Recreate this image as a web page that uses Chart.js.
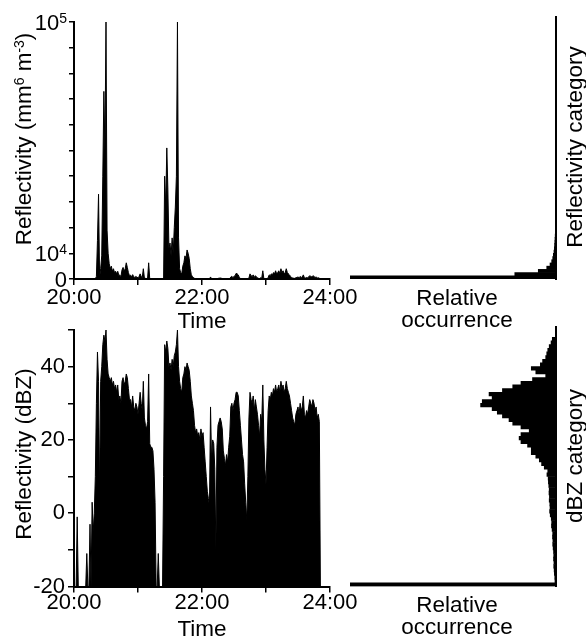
<!DOCTYPE html>
<html><head><meta charset="utf-8">
<script src="https://cdn.jsdelivr.net/npm/chart.js@4.4.1/dist/chart.umd.min.js"></script>
<style>
html,body{margin:0;padding:0;background:#fff;}
#wrap{position:relative;width:586px;height:640px;overflow:hidden;}
canvas{position:absolute;left:0;top:0;}
</style></head><body>
<div id="wrap">
<canvas id="c1" width="586" height="640"></canvas>
<canvas id="c2" width="586" height="640"></canvas>
<canvas id="c3" width="586" height="640"></canvas>
<canvas id="c4" width="586" height="640"></canvas>
</div>
<script>
// ---------- data (one sample per minute after 20:00) ----------
const timeTickLabels = ['20:00', '', '22:00', '', '24:00'];

// Linear reflectivity Z (mm^6 m^-3)
const zSeries = [
  0,0,0,0,0,0,0,0,0,0,
  0,0,0,0,0,0,0,0,0,0,
  10,1000,15000,33000,500,4000,9000,40000,73000,50000,
  100000,19000,10000,6000,4000,5000,3000,4000,2500,3000,
  2000,3000,1500,1500,1000,3500,4500,3000,4000,6300,
  4500,2500,1300,1500,800,1700,900,600,1000,700,
  500,1000,2000,1000,600,4000,400,250,200,300,
  6300,80,60,60,50,20,0,0,0,0,
  0,0,0,0,10,40000,28000,51000,35000,12000,
  14000,9000,16000,10000,20000,28000,40000,100000,16000,4000,
  2500,2000,5000,6300,9000,8000,11300,10000,8000,4000,
  1600,1000,600,250,160,200,120,160,100,200,
  120,160,60,30,10,0,0,0,800,30,
  100,80,20,0,60,250,300,400,300,200,
  50,30,20,40,30,60,120,800,1000,600,
  1000,1300,2200,2000,1600,600,250,100,40,30,
  0,0,0,10,400,2000,1300,1000,1600,600,
  1300,800,500,250,120,500,300,3200,100,20,
  10,60,600,1600,1300,2000,1600,2500,2000,3200,
  2000,2500,3200,2000,4000,2500,3200,2000,2500,4000,
  2500,2000,1600,1000,600,400,300,250,500,600,
  800,500,1000,600,800,1600,500,400,600,500,
  800,1300,1000,800,1300,1000,600,800,400,500,
  300,0,0,0,0,0,0,0,0,0,
  0
];

// Reflectivity in dBZ (clipped at -20)
const dbzSeries = [
  -20,-20,-20,-1,-20,-20,-20,-20,-20,-20,
  -20,-20,-11,-20,-20,-3,-20,3,-5,0,
  10,30,44,36,5,36,40,46,48.6,47,
  50,42,38,37,36,37,35,36,34,35,
  33,35,31,32,30,36,37,35,36,38,
  37,34,31,31,29,32,29,28,30,29,
  27,30,33,30,28,36,26,24,23,25,
  38,19,18,18,17,12,3,-20,-20,-11,
  -20,-20,-20,-20,10,46,44,47,45,40,
  41,39,42,40,43,44,46,50,40,36,
  34,33,37,38,40,39,41,40,39,36,
  32,30,28,24,22,23,21,22,20,23,
  21,22,18,14,10,6,4,2,29,14,
  20,19,12,-10,18,24,25,26,25,23,
  17,15,13,16,14,18,21,29,30,28,
  30,31,33,33,32,28,24,20,16,14,
  8,3,-2,10,26,33,31,30,32,28,
  31,29,27,24,21,27,25,35,20,12,
  8,18,28,32,31,33,32,34,33,35,
  33,34,35,33,36,34,35,33,34,36,
  34,33,32,30,28,26,25,24,27,28,
  29,27,30,28,29,32,27,26,28,27,
  29,31,30,29,31,30,28,29,26,27,
  25,-20,-20,-20,-20,-20,-20,-20,-20,-20,
  -20
];

// Y tick labels
const zTickValues = [0, 10000, 100000];
const zTickBase   = ['0', '10', '10'];
const zTickSup    = ['', '4', '5'];
const dbzTickLabels = ['-20', '', '0', '', '20', '', '40', ''];

// Histograms: bin lower edges (categories) and relative occurrence
const zHistWidth = 1250;
const zHistBins = [0,1250,2500,3750,5000,6250,7500,8750,10000,11250,12500,13750,15000,16250,17500,18750];
const zHistOcc  = [100,20,8.6,4.5,2.9,2.1,1.6,1.3,1.0,0.8,0.7,0.6,0.5,0.4,0.3,0.3];

const dbzHistWidth = 1;
const dbzHistBins = [-20,-19,-18,-17,-16,-15,-14,-13,-12,-11,
  -10,-9,-8,-7,-6,-5,-4,-3,-2,-1,
  0,1,2,3,4,5,6,7,8,9,
  10,11,12,13,14,15,16,17,18,19,
  20,21,22,23,24,25,26,27,28,29,
  30,31,32,33,34,35,36,37,38,39,
  40,41,42,43,44,45,46,47];
const dbzHistOcc = [100,0.5,0.6,0.8,0.9,1.1,1.0,1.2,1.1,1.2,
  1.4,1.6,1.5,1.7,1.6,1.9,2.2,2.1,2.3,2.8,
  3.1,2.9,3.0,3.3,3.2,3.4,3.3,3.5,3.7,3.8,
  4.4,4.0,5.7,7.0,8.1,9.8,12,12,13.8,17,
  17.9,17,13,17,21,22.8,26,28.5,31,36.6,
  35.8,31,32.5,26,21,17,11.4,5,9.8,12,
  7.6,6.5,5,4.5,4,3.3,2.4,1.8];

// ---------- styling ----------
const FONT = "'Liberation Sans', Arial, Helvetica, sans-serif";
const FS = 22, TFS = 22.5, SUPFS = 14, SUPRAISE = 7;
const SUPF = SUPFS + 'px ' + FONT;
let BASEF = FS + 'px ' + FONT;
Chart.defaults.font.family = FONT;
Chart.defaults.color = '#000';

function richWidth(ctx, parts) {
  let w = 0;
  for (const p of parts) { ctx.font = p.sup ? SUPF : BASEF; w += ctx.measureText(p.t).width; }
  return w;
}
function drawRich(ctx, parts, x, y) {
  ctx.textAlign = 'left'; ctx.textBaseline = 'alphabetic';
  for (const p of parts) {
    ctx.font = p.sup ? SUPF : BASEF;
    ctx.fillText(p.t, x, p.sup ? y - SUPRAISE : y);
    x += ctx.measureText(p.t).width;
  }
}
function drawCentered(ctx, parts, cx, by) { drawRich(ctx, parts, cx - richWidth(ctx, parts) / 2, by); }
function drawRotated(ctx, parts, bx, cy) {
  ctx.save(); ctx.translate(bx, cy); ctx.rotate(-Math.PI / 2);
  drawRich(ctx, parts, -richWidth(ctx, parts) / 2, 0);
  ctx.restore();
}
function withFont(size, fn) { const old = BASEF; BASEF = size + 'px ' + FONT; fn(); BASEF = old; }

const axisGrid = { drawOnChartArea: false, drawTicks: true, tickLength: 6, color: '#000', lineWidth: 1.5 };
const axisBorder = { display: true, color: '#000', width: 2 };
const common = { responsive: false, animation: false, events: [],
  plugins: { legend: { display: false }, tooltip: { enabled: false } } };

// ---------- Chart A: linear reflectivity time series ----------
const textA = { id: 'textA', afterDraw(chart) {
  const ctx = chart.ctx, ys = chart.scales.y, ca = chart.chartArea;
  ctx.save(); ctx.fillStyle = '#000';
  zTickValues.forEach((v, i) => {
    const y = ys.getPixelForValue(v) + 7.9;
    const parts = [{ t: zTickBase[i] }];
    if (zTickSup[i]) parts.push({ t: zTickSup[i], sup: true });
    drawRich(ctx, parts, ca.left - 7 - richWidth(ctx, parts), y);
  });
  withFont(TFS, () => {
    drawRotated(ctx, [{ t: 'Reflectivity (mm' }, { t: '6', sup: true }, { t: ' m' }, { t: '-3', sup: true }, { t: ')' }], 31, 139);
    drawCentered(ctx, [{ t: 'Time' }], 202, 328);
    drawCentered(ctx, [{ t: 'Relative' }], 457, 305);
    drawCentered(ctx, [{ t: 'occurrence' }], 457, 327);
    drawRotated(ctx, [{ t: 'Reflectivity category' }], 582, 147);
  });
  ctx.restore();
} };

new Chart(document.getElementById('c1'), {
  type: 'line',
  data: { datasets: [{ data: zSeries.map((v, i) => ({ x: i, y: v })),
    borderColor: '#000', backgroundColor: '#000', borderWidth: 1, pointRadius: 0, fill: 'origin', tension: 0 }] },
  options: Object.assign({}, common, {
    layout: { padding: { left: 0, top: 22, right: 256, bottom: 321 } },
    scales: {
      x: { type: 'linear', min: 0, max: 240, afterFit(s) { s.height = 40; },
        ticks: { stepSize: 60, autoSkip: false, maxRotation: 0, padding: 0, font: { size: FS },
          callback: (v, i) => timeTickLabels[i] },
        grid: axisGrid, border: axisBorder },
      y: { type: 'linear', min: 0, max: 100000, afterFit(s) { s.width = 74; },
        ticks: { stepSize: 10000, display: false },
        grid: Object.assign({}, axisGrid, { tickLength: 5 }), border: axisBorder }
    }
  }),
  plugins: [textA]
});

// ---------- Chart B: dBZ time series ----------
const textB = { id: 'textB', afterDraw(chart) {
  const ctx = chart.ctx;
  ctx.save(); ctx.fillStyle = '#000';
  withFont(TFS, () => {
    drawRotated(ctx, [{ t: 'Reflectivity (dBZ)' }], 31, 454);
    drawCentered(ctx, [{ t: 'Time' }], 202, 636);
    drawCentered(ctx, [{ t: 'Relative' }], 457, 612);
    drawCentered(ctx, [{ t: 'occurrence' }], 457, 634);
    drawRotated(ctx, [{ t: 'dBZ category' }], 582, 456);
  });
  ctx.restore();
} };

new Chart(document.getElementById('c2'), {
  type: 'line',
  data: { datasets: [{ data: dbzSeries.map((v, i) => ({ x: i, y: v })),
    borderColor: '#000', backgroundColor: '#000', borderWidth: 1, pointRadius: 0, fill: 'start', tension: 0 }] },
  options: Object.assign({}, common, {
    layout: { padding: { left: 0, top: 330, right: 256, bottom: 13.5 } },
    scales: {
      x: { type: 'linear', min: 0, max: 240, afterFit(s) { s.height = 40; },
        ticks: { stepSize: 60, autoSkip: false, maxRotation: 0, padding: -3, font: { size: FS },
          callback: (v, i) => timeTickLabels[i] },
        grid: axisGrid, border: axisBorder },
      y: { type: 'linear', min: -20, max: 50, afterFit(s) { s.width = 74; },
        ticks: { stepSize: 10, autoSkip: false, padding: 3, font: { size: FS },
          callback: (v, i) => dbzTickLabels[i] },
        grid: axisGrid, border: axisBorder }
    }
  }),
  plugins: [textB]
});

// ---------- Histograms ----------
function histChart(id, bins, occ, width, ymin, ymax, top, bottom) {
  return new Chart(document.getElementById(id), {
    type: 'bar',
    data: { datasets: [{ data: bins.map((b, i) => ({ x: occ[i], y: b + width / 2 })),
      backgroundColor: '#000', borderWidth: 0, barPercentage: 1, categoryPercentage: 1 }] },
    options: Object.assign({}, common, {
      indexAxis: 'y',
      layout: { padding: { left: 350, top: top, right: 0, bottom: 640 - bottom } },
      scales: {
        x: { type: 'linear', min: 0, max: 100, reverse: true, display: false },
        y: { type: 'linear', position: 'right', offset: false, min: ymin, max: ymax, afterFit(s) { s.width = 30; },
          ticks: { display: false }, grid: { display: false }, border: axisBorder }
      }
    })
  });
}
histChart('c3', zHistBins, zHistOcc, zHistWidth, 0, 102000, 17, 279);
histChart('c4', dbzHistBins, dbzHistOcc, dbzHistWidth, -20, 50.8, 327, 586.5);
</script>
</body></html>
